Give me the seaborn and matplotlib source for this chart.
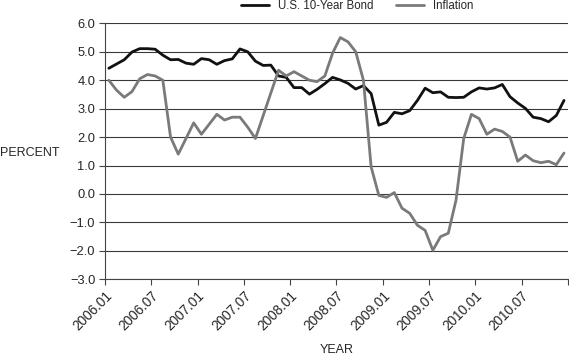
import numpy as np
import pandas as pd
import matplotlib
matplotlib.use("Agg")
import matplotlib.pyplot as plt
import matplotlib.transforms as mtrans
import seaborn as sns

# monthly data, 2006.01 - 2010.12
months = [f"{y}.{m:02d}" for y in range(2006, 2011) for m in range(1, 13)]

bond = [4.42, 4.57, 4.72, 4.99, 5.11, 5.11, 5.09, 4.88, 4.72, 4.73, 4.60, 4.56,
        4.76, 4.72, 4.56, 4.69, 4.75, 5.10, 5.00, 4.67, 4.52, 4.53, 4.15, 4.10,
        3.74, 3.74, 3.51, 3.68, 3.88, 4.10, 4.01, 3.89, 3.69, 3.81, 3.53, 2.42,
        2.52, 2.87, 2.82, 2.93, 3.29, 3.72, 3.56, 3.59, 3.40, 3.39, 3.40, 3.59,
        3.73, 3.69, 3.73, 3.85, 3.42, 3.20, 3.01, 2.70, 2.65, 2.54, 2.76, 3.29]

inflation = [4.0, 3.65, 3.4, 3.6, 4.05, 4.2, 4.15, 4.0, 2.0, 1.4, 1.95, 2.5,
             2.1, 2.45, 2.8, 2.6, 2.7, 2.7, 2.35, 1.95, 2.75, 3.55, 4.35, 4.15,
             4.3, 4.15, 4.0, 3.95, 4.15, 4.95, 5.5, 5.35, 5.0, 4.0, 0.95, -0.05,
             -0.12, 0.05, -0.5, -0.68, -1.1, -1.28, -1.98, -1.5, -1.38, -0.22, 1.95, 2.8,
             2.65, 2.1, 2.28, 2.2, 2.0, 1.15, 1.37, 1.17, 1.1, 1.15, 1.03, 1.44]

y_ticks = [6.0, 5.0, 4.0, 3.0, 2.0, 1.0, 0.0, -1.0, -2.0, -3.0]

# Excel-style category axis: points sit in the middle of each month slot
df = pd.DataFrame({"pos": np.arange(len(months)) + 0.5,
                   "U.S. 10-Year Bond": bond,
                   "Inflation": inflation})
long_df = df.melt(id_vars="pos", var_name="series", value_name="value")

sns.set_style("white")
plt.rcParams["font.family"] = ["Liberation Sans", "DejaVu Sans"]
plt.rcParams["axes.unicode_minus"] = True

fig, ax = plt.subplots(figsize=(5.69, 3.59), dpi=100)
fig.subplots_adjust(left=0.1845, right=0.998, top=0.935, bottom=0.222)

for v in y_ticks:
    ax.axhline(v, color="#3a3a3a", lw=0.8, zorder=1)

sns.lineplot(data=long_df, x="pos", y="value", hue="series",
             palette={"U.S. 10-Year Bond": "#111111", "Inflation": "#7a7a7a"},
             linewidth=2.0, ax=ax, legend=False, zorder=3)

ax.set_xlim(0, len(months))
ax.set_ylim(-3.0, 6.0)
ax.set_yticks(y_ticks)
ax.set_yticklabels([f"{v:.1f}".replace("-", "\u2212") for v in y_ticks], fontsize=9.3)

tick_pos = list(range(0, len(months) + 1, 6))
ax.set_xticks(tick_pos)
ax.set_xticklabels([months[i] if i < len(months) else "" for i in tick_pos],
                   rotation=45, ha="right", rotation_mode="anchor", fontsize=9.8)
shift = mtrans.ScaledTranslation(6 / 100, 3 / 100, fig.dpi_scale_trans)
for lab in ax.get_xticklabels():
    lab.set_transform(lab.get_transform() + shift)

ax.tick_params(axis="both", direction="out", length=4, width=0.8, color="#444444",
               bottom=True, left=True, pad=3)
for side in ["top", "right"]:
    ax.spines[side].set_visible(False)
for side in ["left", "bottom"]:
    ax.spines[side].set_color("#444444")
    ax.spines[side].set_linewidth(0.8)

ax.set_xlabel("YEAR", fontsize=9, va="center")
ax.xaxis.set_label_coords(0.5, -0.277)
ax.set_ylabel("PERCENT", fontsize=9, rotation=0, ha="left", va="center")
ax.yaxis.set_label_coords(-0.227, 0.495)

handles = [plt.Line2D([], [], color="#111111", lw=2.0),
           plt.Line2D([], [], color="#7a7a7a", lw=2.0)]
fig.legend(handles, ["U.S. 10-Year Bond", "Inflation"], loc="upper center",
           bbox_to_anchor=(0.628, 1.03), ncol=2, frameon=False, fontsize=8.3,
           handlelength=2.4, columnspacing=2.0, handletextpad=0.8)

fig.savefig("out.png", dpi=100)
